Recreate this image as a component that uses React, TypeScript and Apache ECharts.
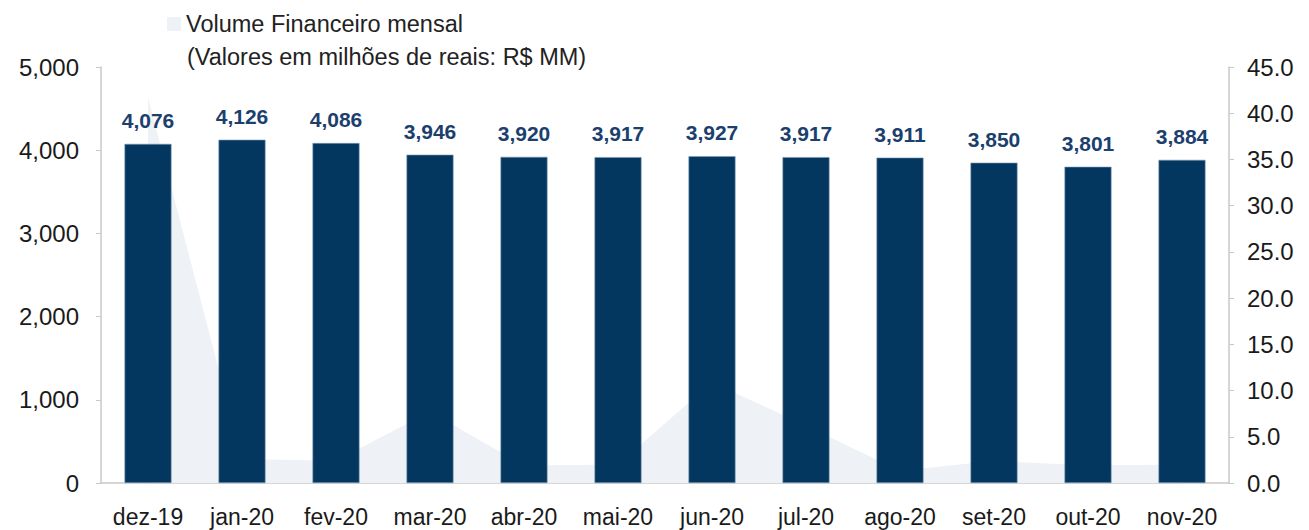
import React, { useEffect, useRef } from "react";
import * as echarts from "echarts";

const categories = ["dez-19", "jan-20", "fev-20", "mar-20", "abr-20", "mai-20", "jun-20", "jul-20", "ago-20", "set-20", "out-20", "nov-20"];
const barValues = [4076, 4126, 4086, 3946, 3920, 3917, 3927, 3917, 3911, 3850, 3801, 3884];
const areaValues = [41.7, 2.6, 2.4, 7.7, 1.9, 2.0, 10.9, 6.2, 1.3, 2.4, 1.9, 2.0];
const legendName = "Volume Financeiro mensal";
const legendSubtitle = "(Valores em milhões de reais: R$ MM)";

const FONT = "'Liberation Sans', Arial, sans-serif";

export default function App() {
  const ref = useRef<HTMLDivElement>(null);
  useEffect(() => {
    if (!ref.current) return;
    const chart = echarts.init(ref.current, undefined, { renderer: "svg" });
    const axisColor = "#c9c9c9";
    chart.setOption({
      animation: false,
      textStyle: { fontFamily: FONT },
      grid: { left: 101, right: 80, top: 67, bottom: 47, containLabel: false },
      legend: {
        data: [{ name: legendName, icon: "rect" }],
        left: 162,
        top: 7,
        itemWidth: 14,
        itemHeight: 14,
        itemGap: 8,
        textStyle: { fontSize: 23.5, color: "#222", fontFamily: FONT },
      },
      graphic: [
        {
          type: "text",
          left: 187,
          top: 45,
          style: { text: legendSubtitle, fontSize: 23.5, fill: "#222", fontFamily: FONT },
        },
      ],
      xAxis: {
        type: "category",
        data: categories,
        boundaryGap: true,
        axisLine: { show: true, lineStyle: { color: axisColor, width: 1.5 } },
        axisTick: { show: false },
        axisLabel: { fontSize: 23, color: "#1a1a1a", margin: 22, interval: 0, fontFamily: FONT },
      },
      yAxis: [
        {
          type: "value",
          min: 0,
          max: 5000,
          interval: 1000,
          splitLine: { show: false },
          axisLine: { show: true, lineStyle: { color: axisColor, width: 1.5 } },
          axisTick: { show: true, length: 5, lineStyle: { color: axisColor } },
          axisLabel: {
            fontSize: 24,
            color: "#1a1a1a",
            margin: 22,
            fontFamily: FONT,
            formatter: (v: number) => v.toLocaleString("en-US"),
          },
        },
        {
          type: "value",
          min: 0,
          max: 45,
          interval: 5,
          position: "right",
          splitLine: { show: false },
          axisLine: { show: true, lineStyle: { color: axisColor, width: 1.5 } },
          axisTick: { show: true, length: 5, lineStyle: { color: axisColor } },
          axisLabel: {
            fontSize: 24,
            color: "#1a1a1a",
            margin: 18,
            fontFamily: FONT,
            formatter: (v: number) => v.toFixed(1),
          },
        },
      ],
      series: [
        {
          name: legendName,
          type: "line",
          yAxisIndex: 1,
          data: areaValues,
          symbol: "none",
          lineStyle: { width: 0, color: "#EEF1F5" },
          itemStyle: { color: "#EEF1F5" },
          areaStyle: { color: "#EEF1F5", opacity: 1 },
          z: 1,
        },
        {
          name: "Volume",
          type: "bar",
          yAxisIndex: 0,
          data: barValues,
          barWidth: "50%",
          itemStyle: { color: "#03375F", borderColor: "#7f98b2", borderWidth: 0.6 },
          label: {
            show: true,
            position: "top",
            distance: 13,
            fontSize: 21,
            fontWeight: "bold",
            color: "#1B406E",
            fontFamily: FONT,
            formatter: (p: any) => Number(p.value).toLocaleString("en-US"),
          },
          z: 2,
        },
      ],
    });
    return () => chart.dispose();
  }, []);
  return <div ref={ref} style={{ width: 1309, height: 530, position: "absolute", left: 0, top: 0 }} />;
}
